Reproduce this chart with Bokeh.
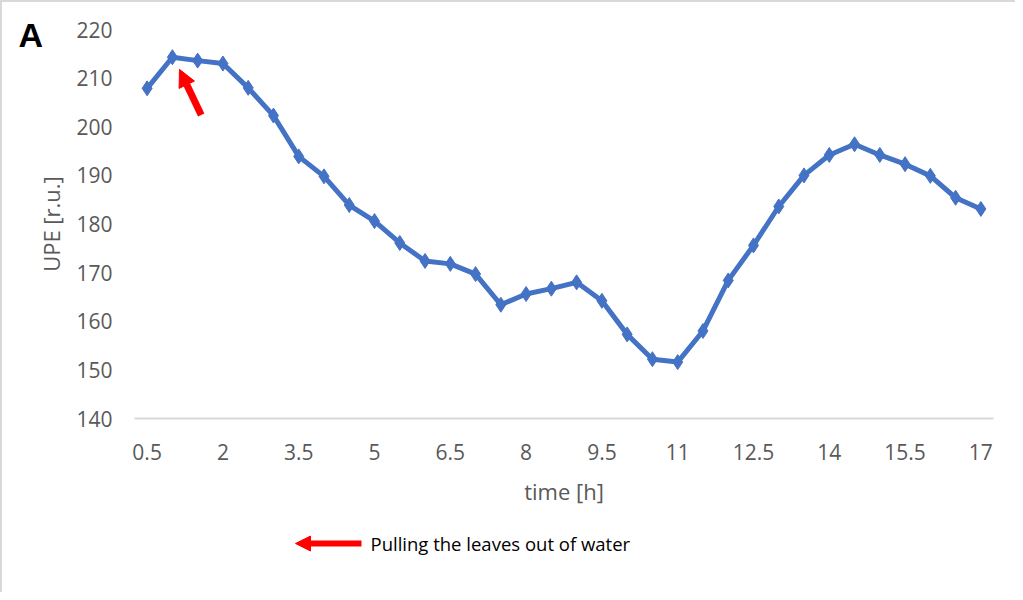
from bokeh.plotting import figure
from bokeh.models import Range1d, FixedTicker, Arrow, NormalHead, Label
from bokeh.embed import file_html
from bokeh.resources import INLINE

# ---- data ----
times = [0.5, 1.0, 1.5, 2.0, 2.5, 3.0, 3.5, 4.0, 4.5, 5.0, 5.5, 6.0, 6.5, 7.0, 7.5, 8.0, 8.5,
         9.0, 9.5, 10.0, 10.5, 11.0, 11.5, 12.0, 12.5, 13.0, 13.5, 14.0, 14.5, 15.0, 15.5, 16.0, 16.5, 17.0]
upe = [207.9, 214.3, 213.6, 213.0, 208.0, 202.3, 193.9, 189.8, 183.9, 180.6, 176.1, 172.4, 171.8, 169.7,
       163.4, 165.6, 166.7, 168.0, 164.2, 157.3, 152.2, 151.6, 158.0, 168.4, 175.6, 183.6, 190.0, 194.2,
       196.4, 194.2, 192.3, 189.9, 185.4, 183.1]
tick_values = [0.5, 2, 3.5, 5, 6.5, 8, 9.5, 11, 12.5, 14, 15.5, 17]
tick_labels = ["0.5", "2", "3.5", "5", "6.5", "8", "9.5", "11", "12.5", "14", "15.5", "17"]
y_ticks = [140, 150, 160, 170, 180, 190, 200, 210, 220]

FONT = "Open Sans"
GRAY = "#595959"
BLUE = "#4472C4"

# ---- layout geometry (canvas pixels) ----
W, H = 1015, 592
X_LO, X_HI = 0.25, 17.25          # axis extent (half category padding)
PX_L, PX_R = 134, 993             # where X_LO / X_HI sit on the canvas
Y_LO, Y_HI = 140, 220
PY_B, PY_T = 418, 29              # where Y_LO / Y_HI sit on the canvas
sx = (PX_R - PX_L) / (X_HI - X_LO)
sy = (PY_B - PY_T) / (Y_HI - Y_LO)
x_range = Range1d(X_LO - PX_L / sx, X_HI + (W - PX_R) / sx)
y_range = Range1d(Y_LO - (H - PY_B) / sy, Y_HI + PY_T / sy)

p = figure(width=W, height=H, output_backend="svg", toolbar_location=None,
           x_range=x_range, y_range=y_range,
           min_border_left=0, min_border_right=0, min_border_top=0, min_border_bottom=0)
p.styles = {"box-shadow": "inset 2px 2px 0 0 #d9d9d9"}
p.border_fill_color = None
p.background_fill_color = None
p.outline_line_color = None
p.grid.visible = False

p.line(times, upe, line_color=BLUE, line_width=5)
p.scatter(times, upe, marker="diamond", size=15, fill_color=BLUE, line_color=BLUE)

xa = p.xaxis[0]
xa.fixed_location = Y_LO
xa.bounds = (X_LO, X_HI)
xa.ticker = FixedTicker(ticks=tick_values)
xa.major_label_overrides = {v: l for v, l in zip(tick_values, tick_labels)}
xa.axis_line_color = "#d9d9d9"
xa.axis_line_width = 2
xa.major_tick_line_color = None
xa.minor_tick_line_color = None
xa.major_label_text_font = FONT
xa.major_label_text_font_size = "21px"
xa.major_label_text_color = GRAY
xa.major_label_standoff = 19
xa.axis_label = "time [h]"
xa.axis_label_text_font = FONT
xa.axis_label_text_font_size = "22px"
xa.axis_label_text_font_style = "normal"
xa.axis_label_text_color = GRAY
xa.axis_label_standoff = 13

ya = p.yaxis[0]
ya.fixed_location = X_LO
ya.bounds = (Y_LO, Y_HI)
ya.ticker = FixedTicker(ticks=y_ticks)
ya.axis_line_color = None
ya.major_tick_line_color = None
ya.minor_tick_line_color = None
ya.major_label_text_font = FONT
ya.major_label_text_font_size = "21px"
ya.major_label_text_color = GRAY
ya.major_label_standoff = 16
ya.axis_label = "UPE [r.u.]"
ya.axis_label_text_font = FONT
ya.axis_label_text_font_size = "22px"
ya.axis_label_text_font_style = "normal"
ya.axis_label_text_color = GRAY
ya.axis_label_standoff = 7

# panel letter
p.add_layout(Label(x=18, y=15, x_units="canvas", y_units="canvas", text="A",
                   text_font="Liberation Sans",
                   text_font_size="34px", text_font_style="bold", text_color="black",
                   text_baseline="top", text_align="left"))
# note text
p.add_layout(Label(x=370, y=543, x_units="canvas", y_units="canvas",
                   text="Pulling the leaves out of water",
                   text_font=FONT, text_font_size="18.5px", text_color="black",
                   text_baseline="middle", text_align="left"))

# red annotation arrow in plot
p.add_layout(Arrow(end=NormalHead(size=17, fill_color="red", line_color="red"),
                   x_start=1.57, y_start=202.4, x_end=1.14, y_end=211.8,
                   line_color="red", line_width=7))

# note arrow
p.add_layout(Arrow(end=NormalHead(size=15, fill_color="red", line_color="red"),
                   start_units="canvas", end_units="canvas",
                   x_start=361, y_start=543, x_end=295, y_end=543,
                   line_color="red", line_width=6))

open("out.html", "w").write(file_html(p, INLINE))
